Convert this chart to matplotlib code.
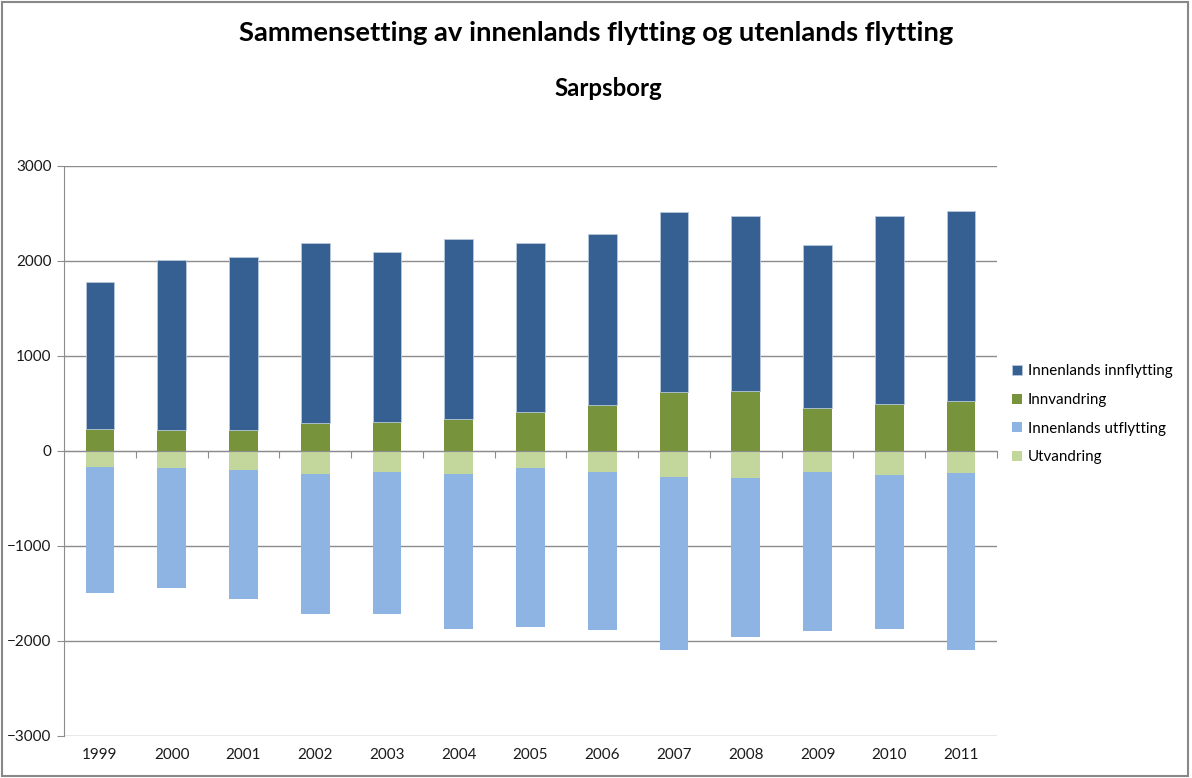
import matplotlib.pyplot as plt
import numpy as np
from matplotlib.patches import Rectangle

plt.rcParams['font.family'] = ['Lato', 'DejaVu Sans']

# data
years = ['1999', '2000', '2001', '2002', '2003', '2004', '2005',
         '2006', '2007', '2008', '2009', '2010', '2011']
innvandring = [235, 217, 224, 290, 304, 333, 413, 487, 616, 626, 455, 493, 529]
innenlands_inn = [1538, 1794, 1818, 1899, 1784, 1898, 1776, 1793, 1902, 1850, 1710, 1983, 1996]
utvandring = [-171, -185, -202, -241, -220, -241, -178, -227, -273, -290, -227, -259, -234]
innenlands_ut = [-1322, -1259, -1357, -1479, -1493, -1637, -1675, -1657, -1818, -1672, -1668, -1619, -1857]

farger = {
    'inn': '#366092',
    'innv': '#77933C',
    'ut': '#8EB4E3',
    'utv': '#C3D69B',
}

fig = plt.figure(figsize=(11.92, 7.78), dpi=100)
ax = fig.add_axes([0.0537, 0.054, 0.7827, 0.733])

x = np.arange(len(years))
b = 0.4
ax.bar(x, innvandring, b, color=farger['innv'], zorder=3, label='Innvandring')
ax.bar(x, innenlands_inn, b, bottom=innvandring, color=farger['inn'], zorder=3,
       label='Innenlands innflytting', edgecolor='#B9C9DD', linewidth=0.6)
ax.bar(x, utvandring, b, color=farger['utv'], zorder=3, label='Utvandring')
ax.bar(x, innenlands_ut, b, bottom=utvandring, color=farger['ut'], zorder=3,
       label='Innenlands utflytting')

ax.set_xlim(-0.5, len(years) - 0.5)
ax.set_ylim(-3000, 3000)
ax.set_yticks(np.arange(-3000, 3001, 1000))
ax.yaxis.grid(True, color='#8C8C8C', linewidth=1, zorder=0)
ax.tick_params(axis='y', length=5, color='#8C8C8C', pad=4, labelsize=11, labelcolor='#1A1A1A')

# x-axis line through zero with ticks between categories
ax.spines['bottom'].set_position(('data', 0))
ax.spines['bottom'].set_color('#8C8C8C')
ax.spines['bottom'].set_zorder(4)
ax.set_xticks(np.arange(-0.5, len(years), 1)[1:])
ax.set_xticklabels([])
ax.tick_params(axis='x', length=5, color='#8C8C8C', direction='out')
ax.spines['left'].set_color('#8C8C8C')
ax.spines['top'].set_visible(False)
ax.spines['right'].set_visible(False)

# year labels along the bottom
sec = ax.secondary_xaxis(0)
sec.set_xticks(x)
sec.set_xticklabels(years)
sec.tick_params(length=0, pad=9, labelsize=11, labelcolor='#1A1A1A')
sec.spines['bottom'].set_visible(False)

handles, labels = ax.get_legend_handles_labels()
order = [1, 0, 3, 2]
ax.legend([handles[i] for i in order], [labels[i] for i in order],
          loc='center left', bbox_to_anchor=(1.002, 0.564), frameon=False,
          fontsize=10.9, handlelength=0.65, handleheight=0.65, labelspacing=0.97,
          handletextpad=0.35)

fig.text(0.5, 0.957, 'Sammensetting av innenlands flytting og utenlands flytting',
         ha='center', va='center', fontsize=19.7, fontweight='bold')
fig.text(0.51, 0.886, 'Sarpsborg', ha='center', va='center', fontsize=17.3, fontweight='bold')

fig.patches.append(Rectangle((0.002, 0.003), 0.995, 0.994, transform=fig.transFigure,
                             fill=False, edgecolor='#888888', linewidth=1.5))

fig.savefig('out.png', dpi=100)
